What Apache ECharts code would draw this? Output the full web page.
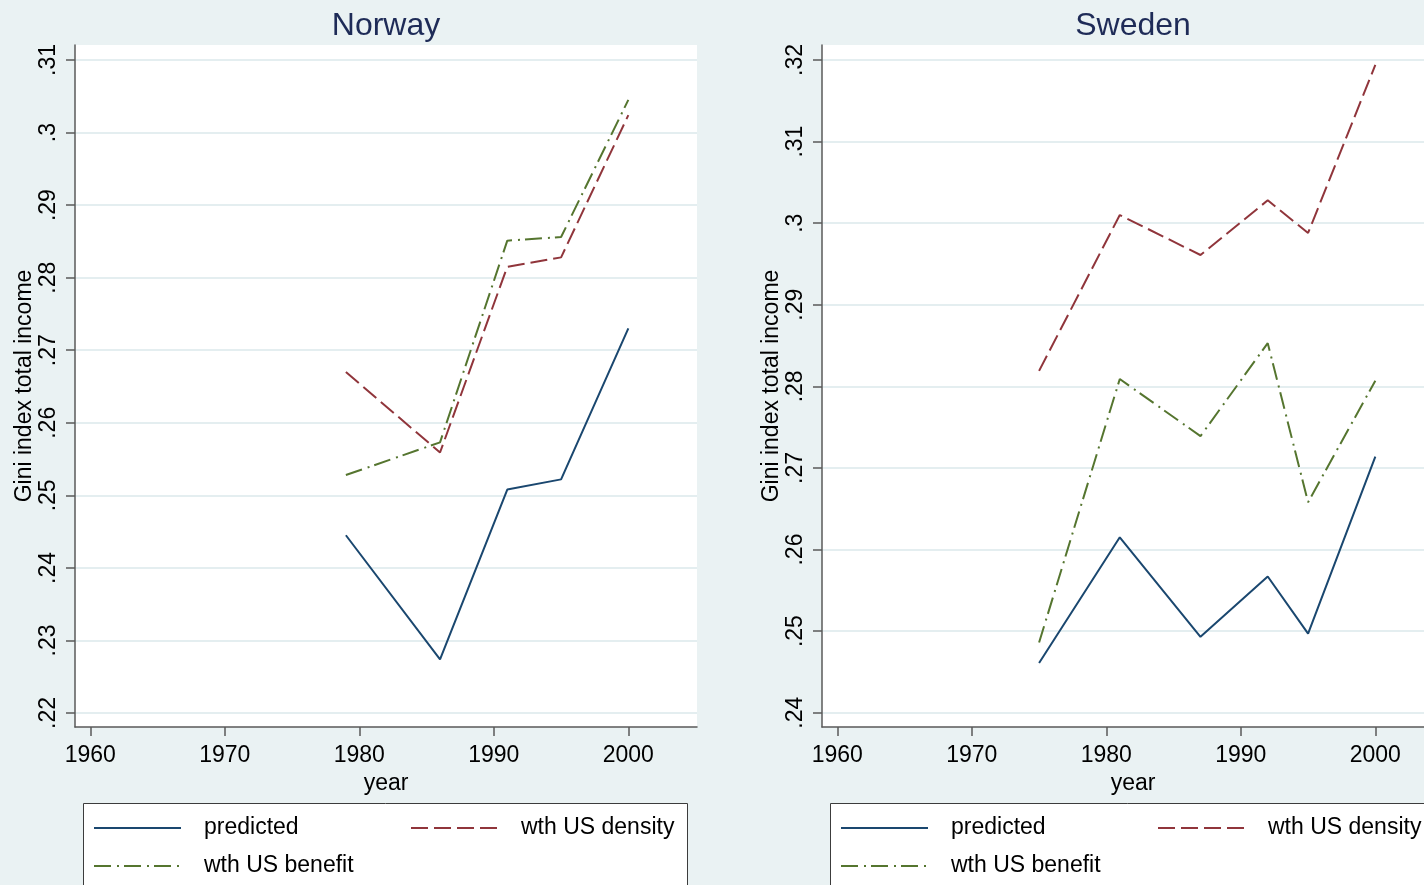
<!DOCTYPE html>
<html>
<head>
<meta charset="utf-8">
<title>Gini index total income: Norway and Sweden</title>
<script src="https://cdn.jsdelivr.net/npm/echarts@6/dist/echarts.min.js"></script>
<style>
  html, body { margin: 0; padding: 0; background: #EAF2F3; }
  #chart { width: 1424px; height: 885px; }
</style>
</head>
<body>
<div id="chart"></div>
<script>
// Gini index of total income by survey year
const norwayYears = [1979, 1986, 1991, 1995, 2000];
const norwayPredicted = [0.2445, 0.2274, 0.2508, 0.2522, 0.2730];
const norwayDensity = [0.2670, 0.2559, 0.2815, 0.2828, 0.3024];
const norwayBenefit = [0.2528, 0.2573, 0.2851, 0.2856, 0.3045];

const swedenYears = [1975, 1981, 1987, 1992, 1995, 2000];
const swedenPredicted = [0.2461, 0.2615, 0.2493, 0.2567, 0.2497, 0.2714];
const swedenDensity = [0.2819, 0.3010, 0.2961, 0.3028, 0.2988, 0.3194];
const swedenBenefit = [0.2486, 0.2809, 0.2739, 0.2853, 0.2658, 0.2807];

const panelTitles = ['Norway', 'Sweden'];
const seriesNames = ['predicted', 'wth US density', 'wth US benefit'];
const yearTicks = [1960, 1970, 1980, 1990, 2000];
const norwayGiniTicks = [0.22, 0.23, 0.24, 0.25, 0.26, 0.27, 0.28, 0.29, 0.30, 0.31];
const swedenGiniTicks = [0.24, 0.25, 0.26, 0.27, 0.28, 0.29, 0.30, 0.31, 0.32];

const FONT = '"Liberation Sans", Arial, sans-serif';
const FS = 23;
const AXIS_COLOR = '#5a5a5a';
const GRID_COLOR = '#E4EEF0';
const COLORS = ['#1A476F', '#90353B', '#55752F'];
const DASHES = ['solid', [17, 6], [17, 6, 2, 5]];

const pairs = (xs, ys) => xs.map((x, i) => [x, ys[i]]);
const giniLabel = v => v.toFixed(2).replace(/^0/, '').replace(/0+$/, '');

// The right-hand panel runs past the page edge, so its plot is cut at the container border;
// its axis title keeps the centre of the full 622px-wide plot.
const PLOT_TOP = 45, PLOT_H = 682, FULL_W = 622, YEAR_PX = 13.45, YEAR_MIN = 1958.86;

const panels = [
  { years: norwayYears, data: [norwayPredicted, norwayDensity, norwayBenefit],
    ticks: norwayGiniTicks, yMin: 0.21807, yMax: 0.31207, left: 75, width: 622, center: 386 },
  { years: swedenYears, data: [swedenPredicted, swedenDensity, swedenBenefit],
    ticks: swedenGiniTicks, yMin: 0.23825, yMax: 0.32184, left: 822, width: 602, center: 1133 }
];

const option = {
  backgroundColor: '#EAF2F3',
  animation: false,
  textStyle: { fontFamily: FONT },
  title: panels.map((p, i) => ({
    text: panelTitles[i],
    left: p.center - 5,
    textAlign: 'center',
    top: 5,
    textStyle: { fontFamily: FONT, fontSize: 32, fontWeight: 'normal', color: '#1E2B57' }
  })),
  grid: panels.map(p => ({
    left: p.left, top: PLOT_TOP, width: p.width, height: PLOT_H,
    show: true, backgroundColor: '#ffffff', borderWidth: 0, containLabel: false
  })),
  xAxis: panels.map((p, i) => ({
    type: 'value',
    gridIndex: i,
    min: YEAR_MIN,
    max: YEAR_MIN + p.width / YEAR_PX,
    name: 'year',
    nameLocation: 'middle',
    nameGap: 40,
    nameTextStyle: { fontFamily: FONT, fontSize: FS, color: '#000',
      padding: [0, 0, 0, FULL_W - p.width] },
    axisLine: { show: true, onZero: false, lineStyle: { color: AXIS_COLOR, width: 1.5 } },
    axisTick: { show: true, length: 9, customValues: yearTicks, lineStyle: { color: AXIS_COLOR, width: 1.5 } },
    axisLabel: { customValues: yearTicks, fontFamily: FONT, fontSize: FS, color: '#000', margin: 17,
      formatter: v => String(v) },
    splitLine: { show: false }
  })),
  yAxis: panels.map((p, i) => ({
    type: 'value',
    gridIndex: i,
    min: p.yMin,
    max: p.yMax,
    name: 'Gini index total income',
    nameLocation: 'middle',
    nameGap: 39,
    nameTextStyle: { fontFamily: FONT, fontSize: FS, color: '#000' },
    axisLine: { show: true, onZero: false, lineStyle: { color: AXIS_COLOR, width: 1.5 } },
    axisTick: { show: true, length: 9, customValues: p.ticks, lineStyle: { color: AXIS_COLOR, width: 1.5 } },
    axisLabel: { customValues: p.ticks, rotate: 90, fontFamily: FONT, fontSize: FS, color: '#000', margin: 15,
      formatter: giniLabel },
    splitLine: { show: true, lineStyle: { color: GRID_COLOR, width: 2 } }
  })),
  series: panels.flatMap((p, i) => seriesNames.map((name, k) => ({
    type: 'line',
    name: name,
    xAxisIndex: i,
    yAxisIndex: i,
    data: pairs(p.years, p.data[k]),
    symbol: 'none',
    showSymbol: false,
    smooth: false,
    color: COLORS[k],
    lineStyle: { color: COLORS[k], width: 2, type: DASHES[k] },
    z: 3 + (2 - k)
  }))),
  legend: panels.flatMap(p => {
    const x0 = p.left + 18;
    const slots = [
      { name: seriesNames[0], left: x0, top: 816 },
      { name: seriesNames[1], left: x0 + 317, top: 816 },
      { name: seriesNames[2], left: x0, top: 854 }
    ];
    return slots.map(s => ({
      data: [s.name],
      left: s.left,
      top: s.top,
      padding: 0,
      itemWidth: 87,
      itemHeight: 14,
      selectedMode: false,
      itemStyle: { opacity: 0 },
      textStyle: { fontFamily: FONT, fontSize: FS, color: '#000', padding: [0, 0, 0, 18], lineHeight: 24 }
    }));
  }),
  graphic: panels.map(p => ({
    type: 'rect',
    shape: { x: p.left + 8.5, y: 803.5, width: 604, height: 120 },
    style: { fill: '#ffffff', stroke: '#3c3c3c', lineWidth: 1 },
    z: -1,
    silent: true
  }))
};

const chart = echarts.init(document.getElementById('chart'), null, { renderer: 'canvas' });
chart.setOption(option);
</script>
</body>
</html>
